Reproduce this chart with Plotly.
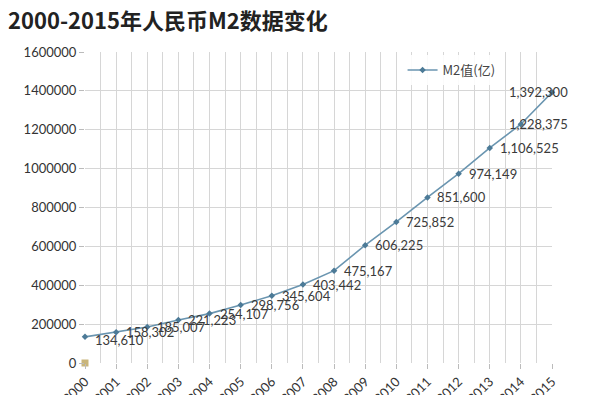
import plotly.graph_objects as go

years = list(range(2000, 2016))
m2 = [134610, 158302, 185007, 221223, 254107, 298756, 345604, 403442,
      475167, 606225, 725852, 851600, 974149, 1106525, 1228375, 1392300]
labels = [f"{v:,}" for v in m2]
series_name = "M2值(亿)"
title = "2000-2015年人民币M2数据变化"
ytick_vals = [0, 200000, 400000, 600000, 800000, 1000000, 1200000, 1400000, 1600000]

font_num = "Lato, 'Open Sans', sans-serif"
font_cjk = "'Noto Sans CJK SC', sans-serif"

fig = go.Figure()
fig.add_trace(go.Scatter(
    x=years, y=m2, mode="lines+markers", name=series_name,
    line=dict(color="#6a95b0", width=1.6),
    marker=dict(symbol="diamond", size=5, color="#4c7a97"),
    cliponaxis=False,
))
fig.add_trace(go.Scatter(
    x=[years[0]], y=[0], mode="markers", showlegend=False,
    marker=dict(symbol="square", size=7, color="#c9b57a"),
    cliponaxis=False,
))

xshifts = [8] * len(years)
xshifts[-2] = -14
xshifts[-1] = -45
yshifts = [0] * len(years)
yshifts[0] = -3
for x, y, t, xs, ys in zip(years, m2, labels, xshifts, yshifts):
    fig.add_annotation(x=x, y=y, text=t, showarrow=False, xanchor="left",
                       yanchor="middle", xshift=xs, yshift=ys,
                       font=dict(family=font_num, size=13, color="#3a3a3a"))

# the page adds an 8px body margin, so offsets compensate for it
fig.update_layout(
    width=600, height=395,
    margin=dict(l=77, r=56, t=44, b=40, autoexpand=False),
    paper_bgcolor="white", plot_bgcolor="white",
    title=dict(text=title, xref="container", yref="container",
               x=0.0, y=1 - 13 / 395, xanchor="left", yanchor="middle",
               font=dict(family=font_cjk, size=22, color="#222", weight="bold")),
    showlegend=True,
    legend=dict(x=0.68, y=0.99, xanchor="left", yanchor="top",
                bgcolor="rgba(255,255,255,0.9)",
                font=dict(family=font_cjk, size=13, color="#444")),
)
fig.update_xaxes(
    range=[2000, 2015], tickvals=years, ticktext=[str(y) for y in years],
    tickangle=-45, showgrid=True, gridcolor="#d6d6d6", gridwidth=1,
    minor=dict(dtick=0.5, tick0=2000, showgrid=True, gridcolor="#d6d6d6"),
    ticks="outside", ticklen=5, tickcolor="#bbbbbb",
    tickfont=dict(family=font_num, size=13, color="#333"),
    showline=False, zeroline=False, automargin=False,
)
fig.update_yaxes(
    range=[0, 1600000], tickvals=ytick_vals, ticktext=[str(v) for v in ytick_vals],
    showgrid=True, gridcolor="#d6d6d6", gridwidth=1,
    ticks="outside", ticklen=5, tickcolor="#bbbbbb",
    tickfont=dict(family=font_num, size=13, color="#333"),
    showline=False, zeroline=False, automargin=False,
)
fig.write_html("out.html")
